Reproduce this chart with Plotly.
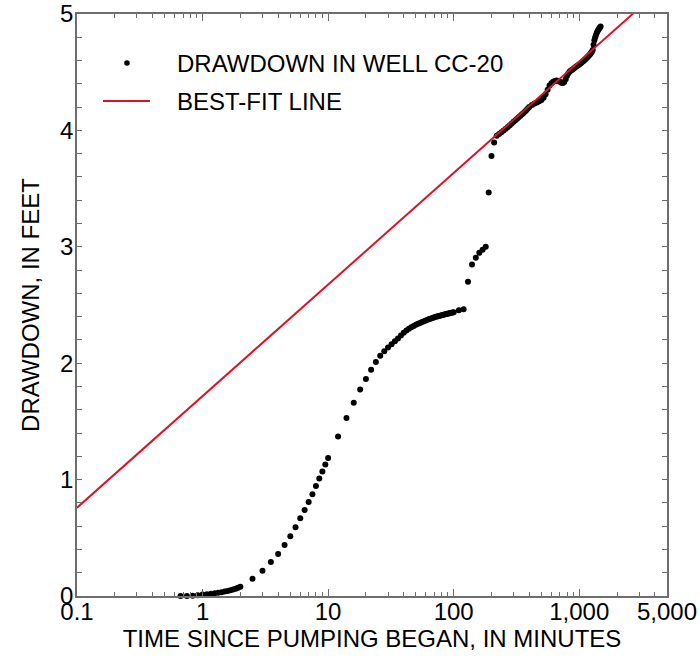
import math
import plotly.graph_objects as go

# Aquifer test, well CC-20: elapsed time (minutes) and drawdown (feet)
time_min = [
    0.667, 0.75, 0.833, 0.917, 1.0, 1.083, 1.167, 1.25, 1.333, 1.417, 1.5,
    1.583, 1.667, 1.75, 1.833, 1.917, 2.0,
    2.5, 3, 3.5, 4, 4.5, 5, 5.5, 6, 6.5, 7, 7.5, 8, 8.5, 9, 9.5, 10,
    12, 14, 16, 18, 20, 22, 24, 26, 28,
    30, 32, 34, 36, 38, 40, 42, 44, 46, 48, 50, 52, 54, 56, 58, 60, 62, 64,
    66, 68, 70, 72, 74, 76, 78, 80, 82, 84, 86, 88, 90, 92, 94, 96, 98, 100,
    110, 120, 130, 140, 150, 160, 170, 180, 190, 200, 210,
    220, 230, 240, 250, 260, 270, 280, 290, 300, 310, 320, 330, 340, 350,
    360, 370, 380, 390, 400,
    420, 440, 460, 480, 500, 520, 540, 560, 580, 600, 620, 640, 660, 680,
    700, 720, 740, 760, 780, 800, 820, 840, 860, 880, 900, 920, 940, 960,
    980, 1000, 1020, 1040, 1060, 1080, 1100, 1120, 1140, 1160, 1180, 1200,
    1220, 1240, 1260, 1280,
    1300, 1320, 1340, 1360, 1380, 1400, 1420, 1440, 1460, 1480,
]
drawdown_ft = [
    0.0, 0.0, 0.003, 0.007, 0.012, 0.016, 0.020, 0.024, 0.028, 0.033, 0.038,
    0.043, 0.049, 0.055, 0.062, 0.070, 0.079,
    0.149, 0.217, 0.292, 0.361, 0.438, 0.513, 0.590, 0.668, 0.739, 0.808,
    0.875, 0.945, 1.010, 1.070, 1.130, 1.185,
    1.370, 1.530, 1.660, 1.775, 1.865, 1.943, 2.011, 2.063, 2.103,
    2.134, 2.163, 2.188, 2.212, 2.238, 2.262, 2.282, 2.297, 2.309, 2.320,
    2.330, 2.338, 2.346, 2.353, 2.360, 2.367, 2.373, 2.379, 2.384, 2.389,
    2.394, 2.398, 2.401, 2.405, 2.408, 2.412, 2.415, 2.418, 2.421, 2.423,
    2.426, 2.428, 2.431, 2.433, 2.436, 2.438,
    2.455, 2.464, 2.700, 2.848, 2.905, 2.948, 2.974, 3.000, 3.467, 3.780,
    3.897,
    3.955, 3.970, 3.985, 4.000, 4.015, 4.030, 4.045, 4.060, 4.075, 4.088,
    4.100, 4.113, 4.125, 4.138, 4.150, 4.162, 4.175, 4.188, 4.200,
    4.218, 4.232, 4.240, 4.250, 4.262, 4.280, 4.310, 4.350, 4.385, 4.405,
    4.418, 4.425, 4.428, 4.425, 4.418, 4.410, 4.408, 4.415, 4.440, 4.470,
    4.490, 4.505, 4.515, 4.522, 4.530, 4.538, 4.546, 4.553, 4.560, 4.567,
    4.575, 4.582, 4.590, 4.597, 4.605, 4.612, 4.620, 4.628, 4.636, 4.645,
    4.655, 4.665, 4.675, 4.690,
    4.735, 4.775, 4.800, 4.820, 4.838, 4.852, 4.864, 4.875, 4.885, 4.893,
]

# Semilog straight-line fit: drawdown = s_1min + slope * log10(t)
fit_slope_ft_per_log_cycle = 0.9585
fit_drawdown_at_1_min = 1.717
fit_time_min = [0.1, 5000]
fit_drawdown_ft = [fit_drawdown_at_1_min + fit_slope_ft_per_log_cycle * math.log10(t)
                   for t in fit_time_min]

# Axis ticks
x_tick_vals = [0.1, 1, 10, 100, 1000, 5000]
x_tick_text = ["0.1", "1", "10", "100", "1,000", "5,000"]
x_minor_vals = [m * 10 ** d for d in range(-1, 4) for m in range(2, 10) if m * 10 ** d < 5000]

# Key labels
series_label = "DRAWDOWN IN WELL CC-20"
fit_label = "BEST-FIT LINE"

FONT = "Liberation Sans, Arial, Helvetica, sans-serif"
FRAME = "#6e6e6e"
DOT = "black"
RED = "#d8142a"

fig = go.Figure()
fig.add_trace(go.Scatter(
    x=time_min, y=drawdown_ft, mode="markers",
    marker=dict(color=DOT, size=6, line=dict(width=0)),
    name=series_label, cliponaxis=False,
))
fig.add_trace(go.Scatter(
    x=fit_time_min, y=fit_drawdown_ft, mode="lines",
    line=dict(color=RED, width=2),
    name=fit_label,
))

# Key, drawn in the upper-left corner of the plot area
key_row1_y, key_row2_y = 0.9158, 0.8505
key_sym_x, key_text_x = 0.0847, 0.166
fig.add_shape(type="circle", xref="paper", yref="paper",
              xsizemode="pixel", ysizemode="pixel",
              xanchor=key_sym_x, yanchor=key_row1_y,
              x0=-2.8, x1=2.8, y0=-2.8, y1=2.8,
              fillcolor=DOT, line=dict(width=0))
fig.add_shape(type="line", xref="paper", yref="paper",
              x0=0.0441, x1=0.1237, y0=key_row2_y, y1=key_row2_y,
              line=dict(color=RED, width=2))
for label, yy in ((series_label, key_row1_y), (fit_label, key_row2_y)):
    fig.add_annotation(text=label, xref="paper", yref="paper",
                       x=key_text_x, y=yy, xanchor="left", yanchor="middle",
                       showarrow=False, font=dict(size=24, color="black"))

fig.update_layout(
    width=700, height=660,
    margin=dict(l=77, r=33, t=14, b=64),
    paper_bgcolor="white", plot_bgcolor="white",
    font=dict(family=FONT, size=24, color="black"),
    showlegend=False,
    xaxis=dict(
        type="log", range=[-1, math.log10(5000)], automargin=False,
        tickvals=x_tick_vals, ticktext=x_tick_text,
        ticks="inside", ticklen=7, tickwidth=1, tickcolor=FRAME,
        showline=True, linecolor=FRAME, linewidth=1.5, mirror="ticks",
        showgrid=False, zeroline=False,
        tickfont=dict(size=24, color="black"), ticklabelstandoff=-7,
        minor=dict(tickvals=x_minor_vals, ticks="inside", ticklen=4,
                   tickwidth=1, tickcolor=FRAME, showgrid=False),
        title=dict(text="TIME SINCE PUMPING BEGAN, IN MINUTES",
                   font=dict(size=24, color="black"), standoff=0),
    ),
    yaxis=dict(
        range=[0, 5], tick0=0, dtick=1, automargin=False,
        ticks="inside", ticklen=5, tickwidth=1, tickcolor=FRAME,
        showline=True, linecolor=FRAME, linewidth=1.5, mirror="ticks",
        showgrid=False, zeroline=False,
        tickfont=dict(size=24, color="black"), ticklabelstandoff=-3,
        minor=dict(dtick=0.2, ticks="inside", ticklen=5, tickwidth=1,
                   tickcolor=FRAME, showgrid=False),
        title=dict(text="DRAWDOWN, IN FEET",
                   font=dict(size=24, color="black"), standoff=14),
    ),
)

fig.write_html("out.html")
